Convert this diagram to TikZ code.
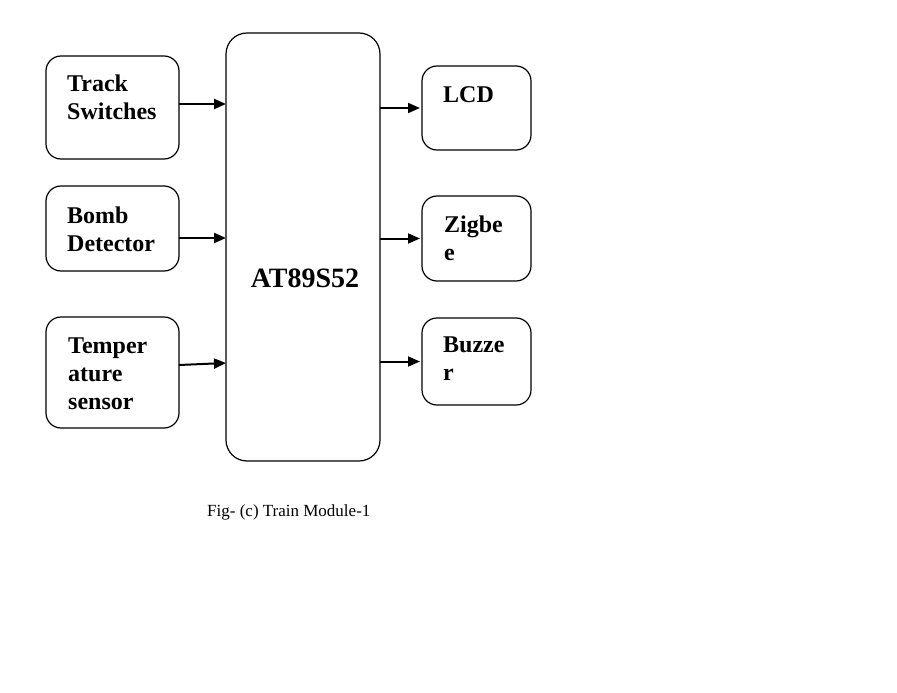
\documentclass[tikz,border=0pt]{standalone}
\usepackage{fontspec}
\setmainfont{Liberation Serif}
\usetikzlibrary{arrows.meta,calc}

\begin{document}
\begin{tikzpicture}[
  x=1pt,y=-1pt,
  blk/.style={draw=black,line width=1.2pt,rounded corners=15pt,
    inner sep=0pt,outer sep=0pt},
  mcubox/.style={draw=black,line width=1.2pt,rounded corners=21pt,
    inner sep=0pt,outer sep=0pt,minimum width=154pt,minimum height=428pt},
  inbox/.style={blk,minimum width=133pt},
  outbox/.style={blk,minimum width=109pt},
  lbl/.style={anchor=north west,inner sep=0pt,align=left,
    font=\fontsize{24}{28}\selectfont\bfseries},
  arr/.style={-{Triangle[length=12pt,width=10pt]},line width=2pt}
]
\useasboundingbox (0,0) rectangle (897,693);
% inputs
\node[inbox,minimum height=103pt] (track) at (112.5,107.5) {};
\node[inbox,minimum height=85pt] (bomb) at (112.5,228.5) {};
\node[inbox,minimum height=111pt] (temp) at (112.5,372.5) {};
% controller
\node[mcubox] (mcu) at (303,247) {};
% outputs
\node[outbox,minimum height=84pt] (lcd) at (476.5,108) {};
\node[outbox,minimum height=85pt] (zigbee) at (476.5,238.5) {};
\node[outbox,minimum height=87pt] (buzzer) at (476.5,361.5) {};
% labels
\node[lbl] (track-txt) at (67,75) {Track\\Switches};
\node[lbl] (bomb-txt) at (67,207) {Bomb\\Detector};
\node[lbl] (temp-txt) at (68,338) {Temper\\ature\\sensor};
\node[lbl] (lcd-txt) at (443,86) {LCD};
\node[lbl] (zigbee-txt) at (444,216) {Zigbe\\e};
\node[lbl] (buzzer-txt) at (443,337) {Buzze\\r};
\node[anchor=base,inner sep=0pt,font=\fontsize{28}{32}\selectfont\bfseries]
  (mcu-txt) at (305,287) {AT89S52};
\node[anchor=base west,inner sep=0pt,font=\fontsize{17}{20}\selectfont]
  (caption) at (207,516) {Fig- (c) Train Module-1};
% connections
\draw[arr] ([yshift=3.5pt]track.east) -- ([yshift=3.5pt]track.east -| mcu.west);
\draw[arr] ([yshift=-9.5pt]bomb.east) -- ([yshift=-9.5pt]bomb.east -| mcu.west);
\draw[arr] ([yshift=7.5pt]temp.east) -- ([yshift=9.5pt]temp.east -| mcu.west);
\draw[arr] (lcd.west -| mcu.east) -- ([xshift=-2pt]lcd.west);
\draw[arr] (zigbee.west -| mcu.east) -- ([xshift=-2pt]zigbee.west);
\draw[arr] (buzzer.west -| mcu.east) -- ([xshift=-2pt]buzzer.west);
\end{tikzpicture}
\end{document}
